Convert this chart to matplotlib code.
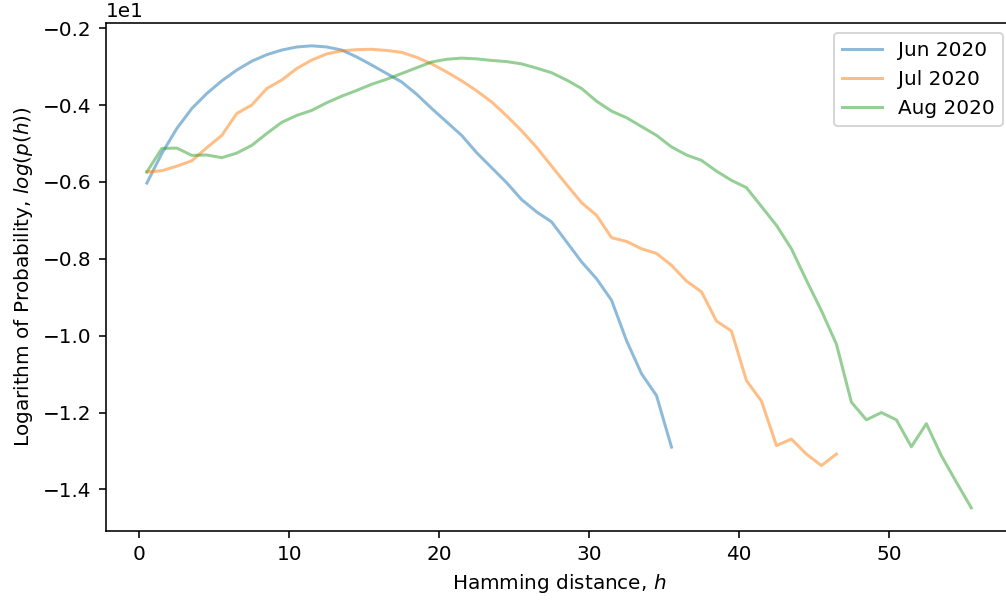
import matplotlib
matplotlib.use("Agg")
import matplotlib.pyplot as plt
import numpy as np

# hamming distance bins (bin centres)
h_jun = np.arange(36) + 0.5
h_jul = np.arange(47) + 0.5
h_aug = np.arange(56) + 0.5

# log probability per month
logp_jun = [-6.03, -5.26, -4.61, -4.09, -3.70, -3.37, -3.09, -2.86, -2.69, -2.57,
            -2.49, -2.46, -2.49, -2.57, -2.75, -2.96, -3.18, -3.40, -3.72, -4.09,
            -4.44, -4.79, -5.24, -5.63, -6.02, -6.46, -6.78, -7.04, -7.56, -8.08,
            -8.52, -9.08, -10.13, -10.99, -11.56, -12.90]

logp_jul = [-5.74, -5.71, -5.59, -5.45, -5.11, -4.79, -4.22, -4.00, -3.57, -3.35,
            -3.05, -2.83, -2.67, -2.59, -2.56, -2.55, -2.58, -2.63, -2.76, -2.93,
            -3.14, -3.37, -3.63, -3.92, -4.28, -4.67, -5.10, -5.59, -6.07, -6.54,
            -6.87, -7.45, -7.55, -7.74, -7.86, -8.17, -8.58, -8.86, -9.62, -9.88,
            -11.17, -11.70, -12.86, -12.69, -13.08, -13.38, -13.08]

logp_aug = [-5.74, -5.13, -5.12, -5.31, -5.30, -5.37, -5.25, -5.05, -4.74, -4.45,
            -4.27, -4.14, -3.94, -3.77, -3.62, -3.46, -3.33, -3.18, -3.03, -2.88,
            -2.81, -2.78, -2.80, -2.84, -2.87, -2.93, -3.04, -3.16, -3.35, -3.57,
            -3.90, -4.16, -4.33, -4.56, -4.79, -5.09, -5.30, -5.44, -5.72, -5.96,
            -6.15, -6.64, -7.13, -7.74, -8.56, -9.35, -10.22, -11.73, -12.19, -12.00,
            -12.19, -12.89, -12.29, -13.12, -13.81, -14.48]

fig = plt.figure(figsize=(1006 / 144, 601 / 144), dpi=144)
ax = fig.add_axes([0.105, 0.1165, 0.9015, 0.8457])

ax.plot(h_jun, logp_jun, alpha=0.5, label="Jun 2020")
ax.plot(h_jul, logp_jul, alpha=0.5, label="Jul 2020")
ax.plot(h_aug, logp_aug, alpha=0.5, label="Aug 2020")

ax.ticklabel_format(axis="y", style="sci", scilimits=(0, 0))
ax.set_xlabel("Hamming distance, $h$")
ax.set_ylabel("Logarithm of Probability, $log(p(h))$")
ax.legend(loc="upper right")

fig.savefig("out.png", dpi=144)
